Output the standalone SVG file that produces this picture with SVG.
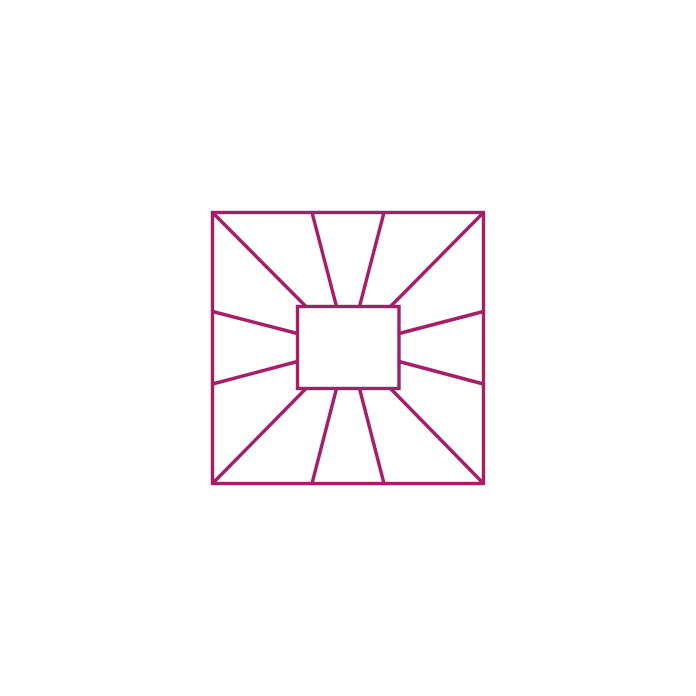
<svg xmlns="http://www.w3.org/2000/svg" width="696" height="696" viewBox="0 0 696 696">
<style>
.s{fill:none;stroke:#A61E66;stroke-width:3.4;stroke-linejoin:miter}
</style>
<rect width="696" height="696" fill="#fff"/>
<g id="outer"><rect class="s" x="212.5" y="212.5" width="271" height="271"/></g>
<g id="inner"><rect class="s" x="297.5" y="306.5" width="101.5" height="82"/></g>
<g id="connectors" class="s">
<line x1="212.5" y1="212.5" x2="306" y2="306.5"/>
<line x1="312" y1="212.5" x2="336.5" y2="306.5"/>
<line x1="384" y1="212.5" x2="359.5" y2="306.5"/>
<line x1="483.5" y1="212.5" x2="390.5" y2="306.5"/>
<line x1="212.5" y1="311.5" x2="297.5" y2="333.5"/>
<line x1="483.5" y1="311.5" x2="399" y2="333.5"/>
<line x1="212.5" y1="384" x2="297.5" y2="361.5"/>
<line x1="483.5" y1="384" x2="399" y2="361.5"/>
<line x1="212.5" y1="483.5" x2="306" y2="388.5"/>
<line x1="312" y1="483.5" x2="336.5" y2="388.5"/>
<line x1="384" y1="483.5" x2="359.5" y2="388.5"/>
<line x1="483.5" y1="483.5" x2="390.5" y2="388.5"/>
</g>
</svg>
